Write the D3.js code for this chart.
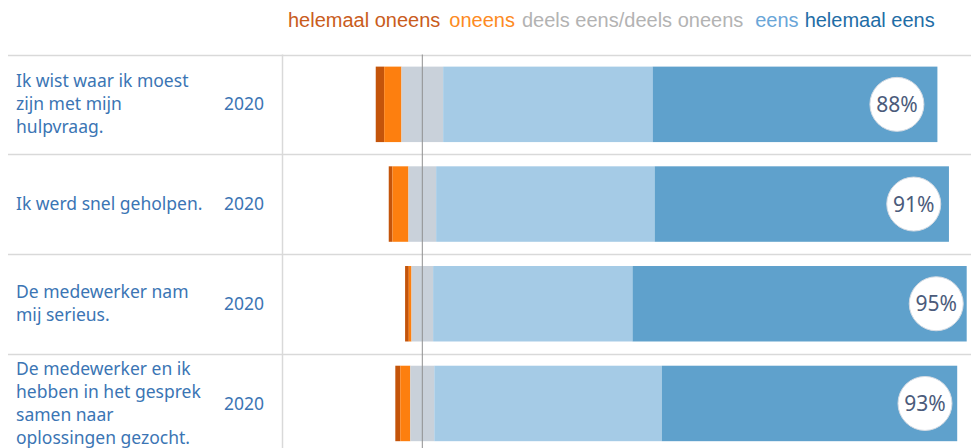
<!DOCTYPE html>
<html><head><meta charset="utf-8">
<script src="https://cdn.jsdelivr.net/npm/d3@7"></script>
<style>body{margin:0;background:#fff}svg{display:block}</style>
</head><body>
<svg id="chart" width="971" height="448"></svg>
<script>
// ---- data ----
const questions = [
  ["Ik wist waar ik moest", "zijn met mijn", "hulpvraag."],
  ["Ik werd snel geholpen."],
  ["De medewerker nam", "mij serieus."],
  ["De medewerker en ik", "hebben in het gesprek", "samen naar", "oplossingen gezocht."]
];
const years = ["2020", "2020", "2020", "2020"];
const categories = ["helemaal oneens", "oneens", "deels eens/deels oneens", "eens", "helemaal eens"];
const helemaalOneens = [1.5, 0.66, 0.66, 0.89];
const oneens = [3.08, 2.85, 0.48, 1.78];
const neutraal = [7.42, 4.93, 3.85, 4.27];
const eens = [37.3, 38.9, 35.5, 40.5];
const helemaalEens = [50.7, 52.4, 59.5, 52.6];
const eensLabels = ["88%", "91%", "95%", "93%"];

// ---- style ----
const barColors = ["#c4540a", "#fd7f0f", "#c9d1da", "#a5cbe6", "#5fa1cc"];
const legendColors = ["#c95c1c", "#fd8a22", "#b3b3b3", "#6aa6d8", "#1f6da6"];
const legendGaps = [9, 7, 12, 6, 0];
const labelColor = "#3b75b4";
const gridColor = "#d9d9d9";

const svg = d3.select("#chart");
const rowIdx = d3.range(questions.length);

const x = d3.scaleLinear().domain([0, 100]).range([422.3, 983.97]);
const y = d3.scaleBand().domain(rowIdx).range([54.5, 453.3]).paddingInner(0.243).paddingOuter(0.1215);
const yRow = d3.scaleBand().domain(rowIdx).range([54.5, 453.3]);

// grid lines
svg.append("g").selectAll("line").data(rowIdx).join("line")
  .attr("x1", 8).attr("x2", 971)
  .attr("y1", d => Math.round(yRow(d)) + 0.5).attr("y2", d => Math.round(yRow(d)) + 0.5)
  .attr("stroke", gridColor).attr("stroke-width", 1.5);
svg.append("line").attr("x1", 282.5).attr("x2", 282.5).attr("y1", 54.5).attr("y2", 448)
  .attr("stroke", gridColor).attr("stroke-width", 1.5);

// stacked diverging segments
const series = [helemaalOneens, oneens, neutraal, eens, helemaalEens];
const segs = [];
rowIdx.forEach(i => {
  let start = -(helemaalOneens[i] + oneens[i] + neutraal[i] / 2);
  series.forEach((s, k) => {
    segs.push({row: i, k, x0: start, x1: start + s[i]});
    start += s[i];
  });
});
svg.append("g").selectAll("rect").data(segs).join("rect")
  .attr("x", d => x(d.x0)).attr("width", d => x(d.x1) - x(d.x0))
  .attr("y", d => y(d.row)).attr("height", y.bandwidth())
  .attr("fill", d => barColors[d.k]);

// zero line
svg.append("line").attr("x1", x(0)).attr("x2", x(0)).attr("y1", 54.5).attr("y2", 448)
  .attr("stroke", "#8f8f8f").attr("stroke-width", 1);

// circles with eens labels
const circ = svg.append("g").selectAll("g").data(rowIdx).join("g")
  .attr("transform", d => `translate(${x(parseFloat(eensLabels[d]) - 3.5)},${y(d) + y.bandwidth() / 2})`);
circ.append("circle").attr("r", 27).attr("fill", "#fff").attr("stroke", "#d5dbe3").attr("stroke-width", 1);
circ.append("text").text(d => eensLabels[d])
  .attr("text-anchor", "middle").attr("dy", "0.36em")
  .attr("font-family", "'Noto Sans', sans-serif").attr("font-size", 21)
  .attr("fill", "#4b5b7b");

// row labels
const lab = svg.append("g").selectAll("text").data(rowIdx).join("text")
  .attr("font-family", "'Noto Sans', sans-serif").attr("font-size", 17.5)
  .attr("fill", labelColor);
lab.each(function(i) {
  const lines = questions[i];
  const cy = yRow(i) + yRow.bandwidth() / 2;
  d3.select(this).selectAll("tspan").data(lines).join("tspan")
    .attr("x", 16).attr("y", (d, j) => cy + (j - (lines.length - 1) / 2) * 23)
    .attr("dy", "0.35em").text(d => d);
});
svg.append("g").selectAll("text").data(rowIdx).join("text")
  .attr("x", 224).attr("y", d => yRow(d) + yRow.bandwidth() / 2).attr("dy", "0.35em")
  .attr("font-family", "'Noto Sans', sans-serif").attr("font-size", 17.5)
  .attr("fill", labelColor).text(d => years[d]);

// legend
const lg = svg.append("g");
let lx = 288;
categories.forEach((c, k) => {
  const t = lg.append("text").attr("x", lx).attr("y", 26.5)
    .attr("font-family", "'Liberation Sans', Arial, sans-serif").attr("font-size", 20)
    .attr("fill", legendColors[k]).text(c);
  lx += t.node().getComputedTextLength() + legendGaps[k];
});
</script>
</body></html>
